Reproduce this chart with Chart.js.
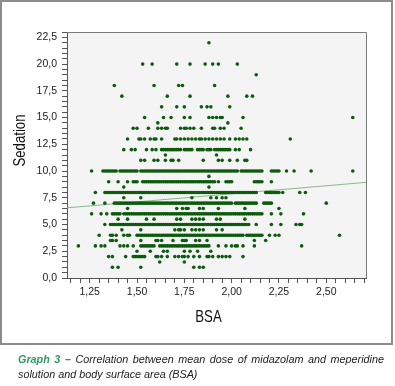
<!DOCTYPE html>
<html>
<head>
<meta charset="utf-8">
<script src="https://cdn.jsdelivr.net/npm/chart.js@4.4.1/dist/chart.umd.min.js"></script>
<style>
  body { margin: 0; background: #fff; }
  #frame { position: absolute; left: 0; top: 0; width: 389px; height: 341px; border: 2px solid #8c8c8c; }
  #plot { position: absolute; left: 0; top: 0; }
  .cap { position: absolute; left: 18px; width: 366px; font: italic 10.8px "Liberation Sans", Arial, sans-serif; line-height: 15px; color: #222; }
  .cap b { color: #2e9a64; }
</style>
</head>
<body>
<div id="frame"></div>
<canvas id="plot" width="395" height="386"></canvas>
<div class="cap" style="top:352px; text-align:justify; text-align-last:justify;"><b>Graph 3 –</b> Correlation between mean dose of midazolam and meperidine</div>
<div class="cap" style="top:367px;">solution and body surface area (BSA)</div>
<script>
// BSA values, one list per sedation level
const bsa_22 = [1.88];
const bsa_20 = [1.53, 1.58, 1.71, 1.78, 1.86, 1.90, 1.93, 2.03];
const bsa_19 = [2.13];
const bsa_18 = [1.38, 1.59, 1.72, 1.74, 1.91];
const bsa_17 = [1.42, 1.66, 1.78, 1.98, 2.08, 2.11];
const bsa_16 = [1.63, 1.71, 1.75, 1.84, 1.87, 1.89, 1.99];
const bsa_15 = [1.54, 1.64, 1.68, 1.75, 1.78, 1.88, 1.90, 1.92, 1.94, 1.95, 2.06, 2.64];
const bsa_14_5 = [1.61, 1.98];
const bsa_14 = [1.48, 1.50, 1.56, 1.61, 1.63, 1.65, 1.66, 1.73, 1.75, 1.76, 1.78, 1.80, 1.84, 1.90, 1.91, 1.94, 1.96, 2.05];
const bsa_13 = [1.45, 1.51, 1.52, 1.54, 1.57, 1.59, 1.60, 1.63, 1.70, 1.71, 1.73, 1.75, 1.77, 1.79, 1.81, 1.83, 1.84,
  1.86, 1.88, 1.90, 1.92, 1.94, 1.96, 1.99, 2.02, 2.04, 2.06, 2.08, 2.31];
const bsa_12 = [1.43, 1.47, 1.49, 1.55, 1.58, 1.60, 1.63, 1.64, 1.65, 1.66, 1.67, 1.68, 1.69, 1.70, 1.71, 1.72, 1.73,
  1.75, 1.76, 1.77, 1.78, 1.79, 1.82, 1.83, 1.84, 1.85, 1.87, 1.88, 1.89, 1.91, 1.92, 1.93, 1.94, 1.95, 1.96, 1.97,
  1.98, 1.99, 2.02, 2.04, 2.10];
const bsa_11_5 = [1.65, 1.92];
const bsa_11 = [1.52, 1.54, 1.59, 1.61, 1.65, 1.68, 1.69, 1.72, 1.85, 1.93, 1.95, 1.99, 2.03, 2.07, 2.08];
const bsa_10 = [1.26, 1.32, 1.33, 1.34, 1.35, 1.36, 1.37, 1.38, 1.39,
  1.41, 1.42, 1.43, 1.44, 1.45, 1.46, 1.47, 1.48, 1.49, 1.50, 1.52, 1.53, 1.54, 1.55, 1.56, 1.57, 1.58, 1.59,
  1.60, 1.61, 1.62, 1.63, 1.64, 1.65, 1.66, 1.67, 1.68, 1.69, 1.70, 1.71, 1.72, 1.73, 1.74, 1.75, 1.76, 1.77, 1.78, 1.79,
  1.80, 1.81, 1.82, 1.83, 1.84, 1.85, 1.86, 1.87, 1.88, 1.89, 1.90, 1.91, 1.92, 1.93, 1.94, 1.95, 1.96, 1.97, 1.98, 1.99,
  2.00, 2.01, 2.02, 2.03, 2.05, 2.06, 2.07, 2.08, 2.09, 2.10, 2.11, 2.12, 2.13, 2.14, 2.15, 2.16,
  2.21, 2.22, 2.23, 2.24, 2.25, 2.29, 2.33, 2.42, 2.64];
const bsa_9_5 = [1.88];
const bsa_9 = [1.35, 1.40, 1.45, 1.48, 1.49, 1.50, 1.53, 1.54, 1.55, 1.56, 1.57, 1.58, 1.59,
  1.60, 1.61, 1.62, 1.63, 1.64, 1.65, 1.66, 1.67, 1.68, 1.69, 1.70, 1.71, 1.72, 1.73, 1.74, 1.75, 1.76, 1.77, 1.78, 1.79,
  1.80, 1.81, 1.82, 1.83, 1.84, 1.85, 1.86, 1.87, 1.88, 1.89, 1.90, 1.91, 1.93, 1.97, 1.98, 1.99, 2.00,
  2.12, 2.13, 2.14, 2.15, 2.16, 2.21];
const bsa_8_5 = [1.43, 1.88];
const bsa_8 = [1.28, 1.33, 1.34, 1.35, 1.36, 1.37, 1.38, 1.39, 1.40, 1.41, 1.42, 1.43, 1.44, 1.45, 1.46, 1.47, 1.48, 1.49,
  1.50, 1.51, 1.52, 1.53, 1.54, 1.55, 1.56, 1.57, 1.58, 1.59, 1.60, 1.61, 1.62, 1.63, 1.64, 1.65, 1.66, 1.67, 1.68, 1.69,
  1.70, 1.71, 1.72, 1.73, 1.74, 1.75, 1.76, 1.77, 1.78, 1.79, 1.80, 1.81, 1.82, 1.83, 1.84, 1.85, 1.86, 1.87, 1.88, 1.89,
  1.90, 1.91, 1.92, 1.93, 1.94, 1.95, 1.96, 1.97, 1.98, 1.99, 2.00, 2.01, 2.02, 2.03, 2.04, 2.05, 2.06, 2.07, 2.08, 2.09,
  2.10, 2.11, 2.12, 2.13, 2.18, 2.19, 2.20, 2.21, 2.22, 2.23, 2.24, 2.25, 2.27, 2.36, 2.39];
const bsa_7_5 = [1.43, 1.52, 1.79, 1.89, 1.92, 1.95, 1.97];
const bsa_7 = [1.27, 1.33, 1.38, 1.39, 1.40, 1.41, 1.42, 1.43, 1.44, 1.45, 1.46, 1.47, 1.48, 1.49,
  1.50, 1.51, 1.52, 1.53, 1.54, 1.55, 1.56, 1.57, 1.58, 1.59, 1.60, 1.61, 1.62, 1.63, 1.64, 1.65, 1.66, 1.67, 1.68, 1.69,
  1.70, 1.71, 1.72, 1.73, 1.74, 1.75, 1.76, 1.77, 1.78, 1.79, 1.80, 1.81, 1.82, 1.83, 1.84, 1.85, 1.86, 1.87, 1.88, 1.89,
  1.90, 1.91, 1.92, 1.93, 1.94, 1.95, 1.96, 1.97, 1.98, 1.99, 2.00, 2.02, 2.03, 2.04, 2.05, 2.06, 2.07, 2.08, 2.09,
  2.10, 2.11, 2.12, 2.13, 2.17, 2.18, 2.19, 2.20, 2.21, 2.50];
const bsa_6_5 = [1.45, 1.71, 1.74, 1.76, 1.77, 1.83, 1.85, 1.93, 2.07, 2.25];
const bsa_6 = [1.26, 1.31, 1.34, 1.37, 1.38, 1.39, 1.40, 1.41, 1.43, 1.44, 1.45, 1.46, 1.47, 1.48, 1.49,
  1.50, 1.51, 1.52, 1.53, 1.54, 1.55, 1.56, 1.57, 1.58, 1.59, 1.60, 1.61, 1.62, 1.63, 1.64, 1.65, 1.66, 1.67, 1.68, 1.69,
  1.70, 1.71, 1.72, 1.73, 1.74, 1.75, 1.76, 1.77, 1.78, 1.79, 1.80, 1.81, 1.82, 1.83, 1.84, 1.85, 1.86, 1.87, 1.88, 1.89,
  1.90, 1.91, 1.92, 1.93, 1.94, 1.95, 1.96, 1.97, 1.98, 1.99, 2.00, 2.01, 2.02, 2.03, 2.04, 2.05, 2.06, 2.07, 2.08, 2.09,
  2.10, 2.11, 2.12, 2.13, 2.14, 2.15, 2.16, 2.21, 2.26, 2.38];
const bsa_5_5 = [1.40, 1.45, 1.55, 1.59, 1.71, 1.73, 1.79, 1.81, 1.83, 1.85, 1.92, 1.94, 2.07];
const bsa_5 = [1.33, 1.36, 1.37, 1.38, 1.39, 1.40, 1.41, 1.42, 1.43, 1.44, 1.45, 1.46, 1.47, 1.48, 1.49,
  1.50, 1.51, 1.52, 1.53, 1.54, 1.55, 1.56, 1.57, 1.58, 1.59, 1.60, 1.61, 1.62, 1.63, 1.64, 1.65, 1.66, 1.67, 1.68, 1.69,
  1.70, 1.71, 1.72, 1.73, 1.74, 1.75, 1.76, 1.77, 1.78, 1.79, 1.80, 1.81, 1.82, 1.83, 1.84, 1.85, 1.86, 1.87, 1.88, 1.89,
  1.90, 1.91, 1.92, 1.93, 1.94, 1.95, 1.96, 1.97, 1.98, 1.99, 2.00, 2.01, 2.02, 2.03, 2.04, 2.05, 2.06, 2.07, 2.08, 2.09,
  2.13, 2.21, 2.26, 2.34, 2.36, 2.37];
const bsa_4_5 = [1.42, 1.52, 1.70, 1.72, 1.73, 1.75, 1.79, 1.81, 1.83, 1.85, 1.92, 1.95];
const bsa_4 = [1.30, 1.36, 1.37, 1.39, 1.43, 1.45, 1.46,
  1.50, 1.51, 1.52, 1.53, 1.54, 1.55, 1.56, 1.57, 1.58, 1.59, 1.60, 1.61, 1.62, 1.63, 1.64, 1.65, 1.66, 1.67, 1.68, 1.69,
  1.70, 1.71, 1.72, 1.73, 1.74, 1.75, 1.76, 1.77, 1.78, 1.79, 1.80, 1.81, 1.82, 1.83, 1.84, 1.85, 1.86, 1.87, 1.88, 1.89,
  1.90, 1.91, 1.92, 1.93, 1.94, 1.95, 1.96, 1.97, 1.98, 1.99, 2.00, 2.01, 2.02, 2.03, 2.04, 2.05, 2.06,
  2.08, 2.09, 2.10, 2.11, 2.12, 2.13, 2.14, 2.15, 2.16, 2.20, 2.23, 2.25, 2.57];
const bsa_3_5 = [1.36, 1.37, 1.39, 1.52, 1.60, 1.61, 1.63, 1.69, 1.74, 1.75, 1.76, 1.81, 1.83, 1.87, 2.12, 2.18];
const bsa_3 = [1.19, 1.28, 1.31, 1.33, 1.41, 1.43, 1.45, 1.48, 1.52, 1.53, 1.54, 1.55, 1.56, 1.57, 1.58, 1.59,
  1.62, 1.63, 1.64, 1.65, 1.66, 1.67, 1.68, 1.69, 1.70, 1.71, 1.72, 1.73, 1.74, 1.75, 1.76, 1.77, 1.78, 1.79,
  1.80, 1.81, 1.82, 1.83, 1.84, 1.85, 1.86, 1.87, 1.88, 1.93, 1.97, 2.00, 2.02, 2.03, 2.06, 2.12, 2.37];
const bsa_2_5 = [1.50, 1.57, 1.64, 1.66, 1.75, 1.78, 1.82, 1.89];
const bsa_2 = [1.35, 1.37, 1.44, 1.48, 1.49, 1.50, 1.51, 1.52, 1.53, 1.54, 1.60, 1.61, 1.63, 1.66, 1.70, 1.72, 1.74,
  1.75, 1.77, 1.80, 1.83, 1.87, 1.88, 1.90, 1.93, 1.95, 1.97, 1.99, 2.06];
const bsa_1_5 = [1.62, 1.75];
const bsa_1 = [1.37, 1.40, 1.52, 1.80, 1.83, 1.85];

const sedationRows = [
  [22, bsa_22], [20, bsa_20], [19, bsa_19], [18, bsa_18], [17, bsa_17], [16, bsa_16], [15, bsa_15],
  [14.5, bsa_14_5], [14, bsa_14], [13, bsa_13], [12, bsa_12], [11.5, bsa_11_5], [11, bsa_11], [10, bsa_10],
  [9.5, bsa_9_5], [9, bsa_9], [8.5, bsa_8_5], [8, bsa_8], [7.5, bsa_7_5], [7, bsa_7], [6.5, bsa_6_5], [6, bsa_6],
  [5.5, bsa_5_5], [5, bsa_5], [4.5, bsa_4_5], [4, bsa_4], [3.5, bsa_3_5], [3, bsa_3], [2.5, bsa_2_5], [2, bsa_2],
  [1.5, bsa_1_5], [1, bsa_1]
];

// fitted line ends
const fitX = [1.13, 2.71];
const fitY = [6.56, 8.94];

const points = [];
sedationRows.forEach(([sed, list]) => {
  list.forEach(b => points.push({ x: b, y: sed }));
});

const tickFont = { family: "'Liberation Sans', Arial, sans-serif", size: 10.5 };

const framePlugin = {
  id: "framePlugin",
  beforeDraw(chart) {
    const { ctx, chartArea: a } = chart;
    ctx.save();
    ctx.fillStyle = "#f4f4f4";
    ctx.fillRect(a.left, a.top, a.right - a.left, a.bottom - a.top);
    ctx.restore();
  },
  afterDraw(chart) {
    const { ctx, chartArea: a } = chart;
    ctx.save();
    ctx.strokeStyle = "#7a7a7a";
    ctx.lineWidth = 1;
    ctx.beginPath();
    ctx.moveTo(a.left, a.top + 0.5);
    ctx.lineTo(a.right + 0.5, a.top + 0.5);
    ctx.lineTo(a.right + 0.5, a.bottom);
    ctx.stroke();

    // axis titles, narrow sans
    ctx.fillStyle = "#111";
    ctx.font = "16.5px 'Liberation Sans', Arial, sans-serif";
    ctx.textAlign = "center";
    ctx.textBaseline = "alphabetic";
    ctx.save();
    ctx.translate(208.5, 322);
    ctx.scale(0.8, 1);
    ctx.fillText("BSA", 0, 0);
    ctx.restore();
    ctx.save();
    ctx.translate(25, 140.5);
    ctx.rotate(-Math.PI / 2);
    ctx.scale(0.8, 1);
    ctx.fillText("Sedation", 0, 0);
    ctx.restore();
    ctx.restore();
  }
};

new Chart(document.getElementById("plot"), {
  type: "scatter",
  data: {
    datasets: [
      {
        data: points,
        pointRadius: 1.8,
        pointBackgroundColor: "#0e5a0e",
        pointBorderWidth: 0,
        order: 1
      },
      {
        type: "line",
        data: fitX.map((x, i) => ({ x: x, y: fitY[i] })),
        showLine: true,
        borderColor: "#86bb86",
        borderWidth: 1,
        pointRadius: 0,
        order: 2
      }
    ]
  },
  options: {
    responsive: false,
    animation: false,
    devicePixelRatio: 1,
    layout: { padding: { top: 32, right: 29, left: 0, bottom: 0 } },
    plugins: { legend: { display: false }, tooltip: { enabled: false } },
    scales: {
      x: {
        type: "linear",
        min: 1.13,
        max: 2.71,
        afterFit: s => { s.height = 108; },
        ticks: {
          stepSize: 0.05,
          includeBounds: false,
          autoSkip: false,
          maxRotation: 0,
          maxTicksLimit: 1000,
          padding: 3,
          color: "#222",
          font: tickFont,
          callback: v => Math.abs(v * 4 - Math.round(v * 4)) < 1e-6 ? v.toFixed(2).replace(".", ",") : ""
        },
        grid: { drawOnChartArea: false, drawTicks: true, tickLength: 5, color: "#555" },
        border: { color: "#555" }
      },
      y: {
        min: 0,
        max: 23,
        afterFit: s => { s.width = 67; },
        ticks: {
          stepSize: 0.5,
          includeBounds: false,
          autoSkip: false,
          maxTicksLimit: 1000,
          padding: 5,
          color: "#222",
          font: tickFont,
          callback: v => Math.abs(v / 2.5 - Math.round(v / 2.5)) < 1e-6 ? v.toFixed(1).replace(".", ",") : ""
        },
        grid: { drawOnChartArea: false, drawTicks: true, tickLength: 5, color: "#555" },
        border: { color: "#555" }
      }
    }
  },
  plugins: [framePlugin]
});
</script>
</body>
</html>
